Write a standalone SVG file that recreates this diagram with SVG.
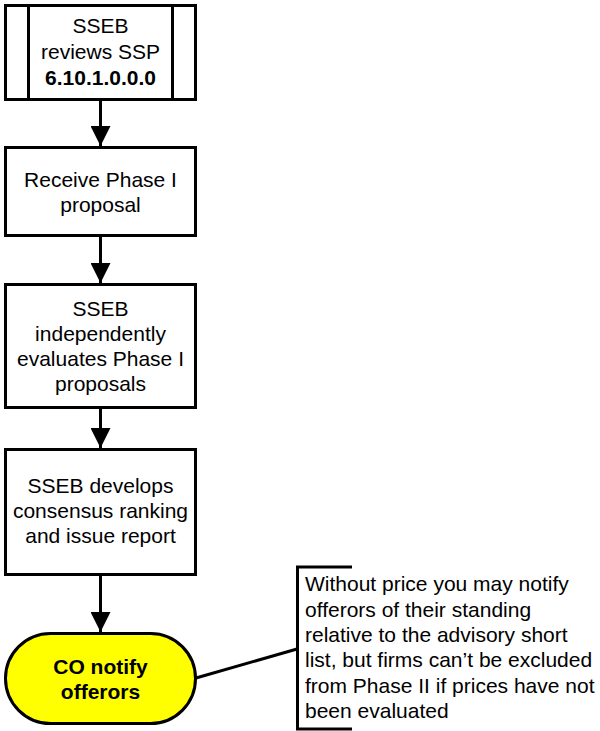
<svg xmlns="http://www.w3.org/2000/svg" width="600" height="731" viewBox="0 0 600 731">
<style>
.box{fill:#fff;stroke:#000;stroke-width:3}
.term{fill:#ffff00;stroke:#000;stroke-width:3}
.t{font-family:"Liberation Sans",Arial,sans-serif;font-size:21px;fill:#000;text-anchor:middle}
.b{font-weight:bold}
.note{font-family:"Liberation Sans",Arial,sans-serif;font-size:21px;fill:#000}
.conn{stroke:#000;stroke-width:3;fill:none}
</style>
<defs>
<marker id="arr" markerUnits="userSpaceOnUse" markerWidth="22" markerHeight="20" refX="20" refY="10" orient="auto">
<path d="M0,0 L20,10 L0,20 Z" fill="#000"/>
</marker>
</defs>
<g id="connectors">
<line class="conn" x1="100.5" y1="101" x2="100.5" y2="146" marker-end="url(#arr)"/>
<line class="conn" x1="100.5" y1="237" x2="100.5" y2="283" marker-end="url(#arr)"/>
<line class="conn" x1="100.5" y1="409" x2="100.5" y2="448" marker-end="url(#arr)"/>
<line class="conn" x1="100.5" y1="576" x2="100.5" y2="632" marker-end="url(#arr)"/>
<line class="conn" x1="196" y1="678" x2="297" y2="649"/>
</g>
<g id="n1">
<rect class="box" x="5.5" y="5.5" width="190" height="94"/>
<line class="conn" x1="28.5" y1="5.5" x2="28.5" y2="99.5"/>
<line class="conn" x1="172.5" y1="5.5" x2="172.5" y2="99.5"/>
<text class="t" x="100.5" y="33">SSEB</text>
<text class="t" x="100.5" y="59">reviews SSP</text>
<text class="t b" x="100.5" y="85">6.10.1.0.0.0</text>
</g>
<g id="n2">
<rect class="box" x="5.5" y="147.5" width="190" height="88"/>
<text class="t" x="100.5" y="187">Receive Phase I</text>
<text class="t" x="100.5" y="211.5">proposal</text>
</g>
<g id="n3">
<rect class="box" x="5.5" y="284.5" width="190" height="123"/>
<text class="t" x="100.5" y="316">SSEB</text>
<text class="t" x="100.5" y="341">independently</text>
<text class="t" x="100.5" y="366">evaluates Phase I</text>
<text class="t" x="100.5" y="391">proposals</text>
</g>
<g id="n4">
<rect class="box" x="5.5" y="449.5" width="190" height="125"/>
<text class="t" x="100.5" y="493">SSEB develops</text>
<text class="t" x="100.5" y="518">consensus ranking</text>
<text class="t" x="100.5" y="543">and issue report</text>
</g>
<g id="n5">
<rect class="term" x="5.5" y="633.5" width="190" height="90" rx="45" ry="45"/>
<text class="t b" x="100.5" y="673.5">CO notify</text>
<text class="t b" x="100.5" y="698.5">offerors</text>
</g>
<g id="note">
<path class="conn" d="M352,567 H297.5 V729 H352" stroke-width="2.5"/>
<text class="note" x="305" y="591">Without price you may notify</text>
<text class="note" x="305" y="616.5">offerors of their standing</text>
<text class="note" x="305" y="642">relative to the advisory short</text>
<text class="note" x="305" y="667">list, but firms can’t be excluded</text>
<text class="note" x="305" y="692.5">from Phase II if prices have not</text>
<text class="note" x="305" y="718">been evaluated</text>
</g>
</svg>
